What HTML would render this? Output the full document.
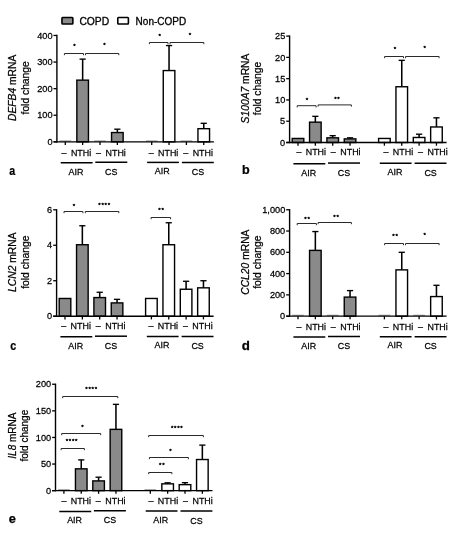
<!DOCTYPE html>
<html><head><meta charset="utf-8"><title>Figure</title>
<style>
html,body{margin:0;padding:0;background:#fff;}
svg{display:block;will-change:transform;font-family:"Liberation Sans", Arial, sans-serif;}
svg text{stroke:#000;stroke-width:0.25px;}
</style></head><body>
<svg width="458" height="535" viewBox="0 0 458 535">
<rect x="0" y="0" width="458" height="535" fill="#fff"/>
<rect x="61.95" y="17.55" width="10.9" height="6.5" rx="0.7" fill="#8a8a8a" stroke="#000" stroke-width="1.6"/>
<text x="79.40" y="24.55" font-size="10.3" style="stroke-width:0.3px">COPD</text>
<rect x="117.8" y="17.55" width="10.6" height="6.5" rx="0.7" fill="#fff" stroke="#000" stroke-width="1.6"/>
<text x="135.60" y="24.50" font-size="10.0" style="stroke-width:0.3px">Non-COPD</text>
<line x1="59.50" y1="140.95" x2="71.10" y2="140.95" stroke="#444" stroke-width="0.6"/>
<line x1="82.65" y1="80.14" x2="82.65" y2="59.12" stroke="#000" stroke-width="1.55"/>
<line x1="79.55" y1="59.12" x2="85.75" y2="59.12" stroke="#000" stroke-width="1.35"/>
<rect x="76.85" y="80.14" width="11.60" height="61.71" fill="#8a8a8a" stroke="#000" stroke-width="1.4"/>
<line x1="94.20" y1="140.95" x2="105.80" y2="140.95" stroke="#444" stroke-width="0.6"/>
<line x1="117.35" y1="132.54" x2="117.35" y2="129.19" stroke="#000" stroke-width="1.55"/>
<line x1="114.25" y1="129.19" x2="120.45" y2="129.19" stroke="#000" stroke-width="1.35"/>
<rect x="111.55" y="132.54" width="11.60" height="9.31" fill="#8a8a8a" stroke="#000" stroke-width="1.4"/>
<line x1="145.90" y1="140.95" x2="157.50" y2="140.95" stroke="#444" stroke-width="0.6"/>
<line x1="169.05" y1="70.56" x2="169.05" y2="45.56" stroke="#000" stroke-width="1.55"/>
<line x1="165.95" y1="45.56" x2="172.15" y2="45.56" stroke="#000" stroke-width="1.35"/>
<rect x="163.25" y="70.56" width="11.60" height="71.29" fill="#fff" stroke="#000" stroke-width="1.4"/>
<line x1="180.60" y1="140.95" x2="192.20" y2="140.95" stroke="#444" stroke-width="0.6"/>
<line x1="203.75" y1="128.68" x2="203.75" y2="123.31" stroke="#000" stroke-width="1.55"/>
<line x1="200.65" y1="123.31" x2="206.85" y2="123.31" stroke="#000" stroke-width="1.35"/>
<rect x="197.95" y="128.68" width="11.60" height="13.17" fill="#fff" stroke="#000" stroke-width="1.4"/>
<line x1="56.90" y1="34.80" x2="56.90" y2="142.50" stroke="#000" stroke-width="1.4"/>
<line x1="53.50" y1="141.85" x2="213.90" y2="141.85" stroke="#000" stroke-width="1.4"/>
<line x1="53.50" y1="141.85" x2="56.90" y2="141.85" stroke="#000" stroke-width="1.3"/>
<text transform="translate(52.55,145.00) scale(0.95,1)" font-size="9.7" text-anchor="end">0</text>
<line x1="53.50" y1="115.25" x2="56.90" y2="115.25" stroke="#000" stroke-width="1.3"/>
<text transform="translate(52.55,118.40) scale(0.95,1)" font-size="9.7" text-anchor="end">100</text>
<line x1="53.50" y1="88.65" x2="56.90" y2="88.65" stroke="#000" stroke-width="1.3"/>
<text transform="translate(52.55,91.80) scale(0.95,1)" font-size="9.7" text-anchor="end">200</text>
<line x1="53.50" y1="62.05" x2="56.90" y2="62.05" stroke="#000" stroke-width="1.3"/>
<text transform="translate(52.55,65.20) scale(0.95,1)" font-size="9.7" text-anchor="end">300</text>
<line x1="53.50" y1="35.45" x2="56.90" y2="35.45" stroke="#000" stroke-width="1.3"/>
<text transform="translate(52.55,38.60) scale(0.95,1)" font-size="9.7" text-anchor="end">400</text>
<line x1="65.30" y1="141.85" x2="65.30" y2="145.05" stroke="#000" stroke-width="1.3"/>
<line x1="82.65" y1="141.85" x2="82.65" y2="145.05" stroke="#000" stroke-width="1.3"/>
<line x1="100.00" y1="141.85" x2="100.00" y2="145.05" stroke="#000" stroke-width="1.3"/>
<line x1="117.35" y1="141.85" x2="117.35" y2="145.05" stroke="#000" stroke-width="1.3"/>
<line x1="151.70" y1="141.85" x2="151.70" y2="145.05" stroke="#000" stroke-width="1.3"/>
<line x1="169.05" y1="141.85" x2="169.05" y2="145.05" stroke="#000" stroke-width="1.3"/>
<line x1="186.40" y1="141.85" x2="186.40" y2="145.05" stroke="#000" stroke-width="1.3"/>
<line x1="203.75" y1="141.85" x2="203.75" y2="145.05" stroke="#000" stroke-width="1.3"/>
<text transform="translate(64.10,156.05) scale(0.92,1)" font-size="9.7" text-anchor="middle">–</text>
<text transform="translate(81.05,156.05) scale(0.92,1)" font-size="9.7" text-anchor="middle">NTHi</text>
<text transform="translate(98.50,156.05) scale(0.92,1)" font-size="9.7" text-anchor="middle">–</text>
<text transform="translate(115.65,156.05) scale(0.92,1)" font-size="9.7" text-anchor="middle">NTHi</text>
<line x1="60.70" y1="162.80" x2="92.60" y2="162.80" stroke="#000" stroke-width="1.5"/>
<line x1="95.30" y1="162.20" x2="127.30" y2="162.20" stroke="#000" stroke-width="1.5"/>
<text transform="translate(76.00,175.00) scale(0.92,1)" font-size="9.7" text-anchor="middle">AIR</text>
<text transform="translate(111.30,175.00) scale(0.92,1)" font-size="9.7" text-anchor="middle">CS</text>
<text transform="translate(151.20,156.05) scale(0.92,1)" font-size="9.7" text-anchor="middle">–</text>
<text transform="translate(168.20,156.05) scale(0.92,1)" font-size="9.7" text-anchor="middle">NTHi</text>
<text transform="translate(185.70,156.05) scale(0.92,1)" font-size="9.7" text-anchor="middle">–</text>
<text transform="translate(202.80,156.05) scale(0.92,1)" font-size="9.7" text-anchor="middle">NTHi</text>
<line x1="147.10" y1="162.40" x2="178.90" y2="162.40" stroke="#000" stroke-width="1.5"/>
<line x1="181.90" y1="162.40" x2="213.80" y2="162.40" stroke="#000" stroke-width="1.5"/>
<text transform="translate(162.20,174.40) scale(0.92,1)" font-size="9.7" text-anchor="middle">AIR</text>
<text transform="translate(197.90,175.40) scale(0.92,1)" font-size="9.7" text-anchor="middle">CS</text>
<path d="M64.40 55.20 V53.50 H83.50 V55.20" fill="none" stroke="#2a2a2a" stroke-width="1.0"/>
<text x="74.91" y="48.20" font-size="6.2" text-anchor="middle" style="letter-spacing:0.73px;stroke-width:0.35px">*</text>
<path d="M85.50 55.20 V53.50 H118.80 V55.20" fill="none" stroke="#2a2a2a" stroke-width="1.0"/>
<text x="104.91" y="47.20" font-size="6.2" text-anchor="middle" style="letter-spacing:0.73px;stroke-width:0.35px">*</text>
<path d="M149.40 44.20 V42.50 H168.00 V44.20" fill="none" stroke="#2a2a2a" stroke-width="1.0"/>
<text x="160.01" y="38.20" font-size="6.2" text-anchor="middle" style="letter-spacing:0.73px;stroke-width:0.35px">*</text>
<path d="M170.00 44.20 V42.50 H203.80 V44.20" fill="none" stroke="#2a2a2a" stroke-width="1.0"/>
<text x="190.41" y="37.30" font-size="6.2" text-anchor="middle" style="letter-spacing:0.73px;stroke-width:0.35px">*</text>
<text transform="translate(16.3,87.85) rotate(-90)" font-size="10.3" text-anchor="middle"><tspan font-style="italic">DEFB4</tspan> mRNA</text>
<text transform="translate(28.6,87.85) rotate(-90)" font-size="10.3" text-anchor="middle">fold change</text>
<text transform="translate(9.29,174.75) scale(0.83,1)" font-size="12.8" font-weight="bold">a</text>
<rect x="292.20" y="138.46" width="11.60" height="4.04" fill="#8a8a8a" stroke="#000" stroke-width="1.4"/>
<line x1="315.35" y1="122.16" x2="315.35" y2="116.33" stroke="#000" stroke-width="1.55"/>
<line x1="312.25" y1="116.33" x2="318.45" y2="116.33" stroke="#000" stroke-width="1.35"/>
<rect x="309.55" y="122.16" width="11.60" height="20.34" fill="#8a8a8a" stroke="#000" stroke-width="1.4"/>
<line x1="332.70" y1="137.82" x2="332.70" y2="135.69" stroke="#000" stroke-width="1.55"/>
<line x1="329.60" y1="135.69" x2="335.80" y2="135.69" stroke="#000" stroke-width="1.35"/>
<rect x="326.90" y="137.82" width="11.60" height="4.68" fill="#8a8a8a" stroke="#000" stroke-width="1.4"/>
<line x1="350.05" y1="138.88" x2="350.05" y2="137.82" stroke="#000" stroke-width="1.55"/>
<line x1="346.95" y1="137.82" x2="353.15" y2="137.82" stroke="#000" stroke-width="1.35"/>
<rect x="344.25" y="138.88" width="11.60" height="3.62" fill="#8a8a8a" stroke="#000" stroke-width="1.4"/>
<rect x="378.60" y="138.46" width="11.60" height="4.04" fill="#fff" stroke="#000" stroke-width="1.4"/>
<line x1="401.75" y1="86.75" x2="401.75" y2="60.36" stroke="#000" stroke-width="1.55"/>
<line x1="398.65" y1="60.36" x2="404.85" y2="60.36" stroke="#000" stroke-width="1.35"/>
<rect x="395.95" y="86.75" width="11.60" height="55.75" fill="#fff" stroke="#000" stroke-width="1.4"/>
<line x1="419.10" y1="137.48" x2="419.10" y2="134.20" stroke="#000" stroke-width="1.55"/>
<line x1="416.00" y1="134.20" x2="422.20" y2="134.20" stroke="#000" stroke-width="1.35"/>
<rect x="413.30" y="137.48" width="11.60" height="5.02" fill="#fff" stroke="#000" stroke-width="1.4"/>
<line x1="436.45" y1="126.97" x2="436.45" y2="117.82" stroke="#000" stroke-width="1.55"/>
<line x1="433.35" y1="117.82" x2="439.55" y2="117.82" stroke="#000" stroke-width="1.35"/>
<rect x="430.65" y="126.97" width="11.60" height="15.53" fill="#fff" stroke="#000" stroke-width="1.4"/>
<line x1="289.60" y1="35.45" x2="289.60" y2="143.15" stroke="#000" stroke-width="1.4"/>
<line x1="286.20" y1="142.50" x2="446.60" y2="142.50" stroke="#000" stroke-width="1.4"/>
<line x1="286.20" y1="142.50" x2="289.60" y2="142.50" stroke="#000" stroke-width="1.3"/>
<text transform="translate(285.25,145.65) scale(0.95,1)" font-size="9.7" text-anchor="end">0</text>
<line x1="286.20" y1="121.22" x2="289.60" y2="121.22" stroke="#000" stroke-width="1.3"/>
<text transform="translate(285.25,124.37) scale(0.95,1)" font-size="9.7" text-anchor="end">5</text>
<line x1="286.20" y1="99.94" x2="289.60" y2="99.94" stroke="#000" stroke-width="1.3"/>
<text transform="translate(285.25,103.09) scale(0.95,1)" font-size="9.7" text-anchor="end">10</text>
<line x1="286.20" y1="78.66" x2="289.60" y2="78.66" stroke="#000" stroke-width="1.3"/>
<text transform="translate(285.25,81.81) scale(0.95,1)" font-size="9.7" text-anchor="end">15</text>
<line x1="286.20" y1="57.38" x2="289.60" y2="57.38" stroke="#000" stroke-width="1.3"/>
<text transform="translate(285.25,60.53) scale(0.95,1)" font-size="9.7" text-anchor="end">20</text>
<line x1="286.20" y1="36.10" x2="289.60" y2="36.10" stroke="#000" stroke-width="1.3"/>
<text transform="translate(285.25,39.25) scale(0.95,1)" font-size="9.7" text-anchor="end">25</text>
<line x1="298.00" y1="142.50" x2="298.00" y2="145.70" stroke="#000" stroke-width="1.3"/>
<line x1="315.35" y1="142.50" x2="315.35" y2="145.70" stroke="#000" stroke-width="1.3"/>
<line x1="332.70" y1="142.50" x2="332.70" y2="145.70" stroke="#000" stroke-width="1.3"/>
<line x1="350.05" y1="142.50" x2="350.05" y2="145.70" stroke="#000" stroke-width="1.3"/>
<line x1="384.40" y1="142.50" x2="384.40" y2="145.70" stroke="#000" stroke-width="1.3"/>
<line x1="401.75" y1="142.50" x2="401.75" y2="145.70" stroke="#000" stroke-width="1.3"/>
<line x1="419.10" y1="142.50" x2="419.10" y2="145.70" stroke="#000" stroke-width="1.3"/>
<line x1="436.45" y1="142.50" x2="436.45" y2="145.70" stroke="#000" stroke-width="1.3"/>
<text transform="translate(298.90,155.20) scale(0.92,1)" font-size="9.7" text-anchor="middle">–</text>
<text transform="translate(315.85,155.20) scale(0.92,1)" font-size="9.7" text-anchor="middle">NTHi</text>
<text transform="translate(333.30,155.20) scale(0.92,1)" font-size="9.7" text-anchor="middle">–</text>
<text transform="translate(350.45,155.20) scale(0.92,1)" font-size="9.7" text-anchor="middle">NTHi</text>
<line x1="293.40" y1="163.65" x2="325.30" y2="163.65" stroke="#000" stroke-width="1.5"/>
<line x1="328.00" y1="163.05" x2="360.00" y2="163.05" stroke="#000" stroke-width="1.5"/>
<text transform="translate(308.70,175.70) scale(0.92,1)" font-size="9.7" text-anchor="middle">AIR</text>
<text transform="translate(344.00,175.70) scale(0.92,1)" font-size="9.7" text-anchor="middle">CS</text>
<text transform="translate(386.00,155.20) scale(0.92,1)" font-size="9.7" text-anchor="middle">–</text>
<text transform="translate(403.00,155.20) scale(0.92,1)" font-size="9.7" text-anchor="middle">NTHi</text>
<text transform="translate(420.50,155.20) scale(0.92,1)" font-size="9.7" text-anchor="middle">–</text>
<text transform="translate(437.60,155.20) scale(0.92,1)" font-size="9.7" text-anchor="middle">NTHi</text>
<line x1="379.80" y1="163.25" x2="411.60" y2="163.25" stroke="#000" stroke-width="1.5"/>
<line x1="414.60" y1="163.25" x2="446.50" y2="163.25" stroke="#000" stroke-width="1.5"/>
<text transform="translate(394.90,175.10) scale(0.92,1)" font-size="9.7" text-anchor="middle">AIR</text>
<text transform="translate(430.60,176.10) scale(0.92,1)" font-size="9.7" text-anchor="middle">CS</text>
<path d="M297.20 107.40 V105.70 H316.10 V107.40" fill="none" stroke="#2a2a2a" stroke-width="1.0"/>
<text x="307.31" y="101.50" font-size="6.2" text-anchor="middle" style="letter-spacing:0.73px;stroke-width:0.35px">*</text>
<path d="M318.10 106.60 V104.90 H351.40 V106.60" fill="none" stroke="#2a2a2a" stroke-width="1.0"/>
<text x="337.31" y="100.80" font-size="6.2" text-anchor="middle" style="letter-spacing:0.73px;stroke-width:0.35px">**</text>
<path d="M384.60 58.20 V56.50 H403.50 V58.20" fill="none" stroke="#2a2a2a" stroke-width="1.0"/>
<text x="395.41" y="51.00" font-size="6.2" text-anchor="middle" style="letter-spacing:0.73px;stroke-width:0.35px">*</text>
<path d="M405.50 58.20 V56.50 H439.10 V58.20" fill="none" stroke="#2a2a2a" stroke-width="1.0"/>
<text x="425.11" y="50.10" font-size="6.2" text-anchor="middle" style="letter-spacing:0.73px;stroke-width:0.35px">*</text>
<text transform="translate(249.2,88.50) rotate(-90)" font-size="10.3" text-anchor="middle"><tspan font-style="italic">S100A7</tspan> mRNA</text>
<text transform="translate(260.9,88.50) rotate(-90)" font-size="10.3" text-anchor="middle">fold change</text>
<text transform="translate(241.92,174.05) scale(0.98,1)" font-size="12.8" font-weight="bold">b</text>
<rect x="59.20" y="298.47" width="11.60" height="17.73" fill="#8a8a8a" stroke="#000" stroke-width="1.4"/>
<line x1="82.35" y1="244.73" x2="82.35" y2="225.76" stroke="#000" stroke-width="1.55"/>
<line x1="79.25" y1="225.76" x2="85.45" y2="225.76" stroke="#000" stroke-width="1.35"/>
<rect x="76.55" y="244.73" width="11.60" height="71.47" fill="#8a8a8a" stroke="#000" stroke-width="1.4"/>
<line x1="99.70" y1="297.58" x2="99.70" y2="292.26" stroke="#000" stroke-width="1.55"/>
<line x1="96.60" y1="292.26" x2="102.80" y2="292.26" stroke="#000" stroke-width="1.35"/>
<rect x="93.90" y="297.58" width="11.60" height="18.62" fill="#8a8a8a" stroke="#000" stroke-width="1.4"/>
<line x1="117.05" y1="302.90" x2="117.05" y2="299.35" stroke="#000" stroke-width="1.55"/>
<line x1="113.95" y1="299.35" x2="120.15" y2="299.35" stroke="#000" stroke-width="1.35"/>
<rect x="111.25" y="302.90" width="11.60" height="13.30" fill="#8a8a8a" stroke="#000" stroke-width="1.4"/>
<rect x="145.60" y="298.47" width="11.60" height="17.73" fill="#fff" stroke="#000" stroke-width="1.4"/>
<line x1="168.75" y1="244.73" x2="168.75" y2="222.75" stroke="#000" stroke-width="1.55"/>
<line x1="165.65" y1="222.75" x2="171.85" y2="222.75" stroke="#000" stroke-width="1.35"/>
<rect x="162.95" y="244.73" width="11.60" height="71.47" fill="#fff" stroke="#000" stroke-width="1.4"/>
<line x1="186.10" y1="289.25" x2="186.10" y2="281.27" stroke="#000" stroke-width="1.55"/>
<line x1="183.00" y1="281.27" x2="189.20" y2="281.27" stroke="#000" stroke-width="1.35"/>
<rect x="180.30" y="289.25" width="11.60" height="26.95" fill="#fff" stroke="#000" stroke-width="1.4"/>
<line x1="203.45" y1="287.83" x2="203.45" y2="280.73" stroke="#000" stroke-width="1.55"/>
<line x1="200.35" y1="280.73" x2="206.55" y2="280.73" stroke="#000" stroke-width="1.35"/>
<rect x="197.65" y="287.83" width="11.60" height="28.37" fill="#fff" stroke="#000" stroke-width="1.4"/>
<line x1="56.60" y1="209.15" x2="56.60" y2="316.85" stroke="#000" stroke-width="1.4"/>
<line x1="53.20" y1="316.20" x2="213.60" y2="316.20" stroke="#000" stroke-width="1.4"/>
<line x1="53.20" y1="316.20" x2="56.60" y2="316.20" stroke="#000" stroke-width="1.3"/>
<text transform="translate(52.25,319.35) scale(0.95,1)" font-size="9.7" text-anchor="end">0</text>
<line x1="53.20" y1="280.73" x2="56.60" y2="280.73" stroke="#000" stroke-width="1.3"/>
<text transform="translate(52.25,283.88) scale(0.95,1)" font-size="9.7" text-anchor="end">2</text>
<line x1="53.20" y1="245.27" x2="56.60" y2="245.27" stroke="#000" stroke-width="1.3"/>
<text transform="translate(52.25,248.42) scale(0.95,1)" font-size="9.7" text-anchor="end">4</text>
<line x1="53.20" y1="209.80" x2="56.60" y2="209.80" stroke="#000" stroke-width="1.3"/>
<text transform="translate(52.25,212.95) scale(0.95,1)" font-size="9.7" text-anchor="end">6</text>
<line x1="65.00" y1="316.20" x2="65.00" y2="319.40" stroke="#000" stroke-width="1.3"/>
<line x1="82.35" y1="316.20" x2="82.35" y2="319.40" stroke="#000" stroke-width="1.3"/>
<line x1="99.70" y1="316.20" x2="99.70" y2="319.40" stroke="#000" stroke-width="1.3"/>
<line x1="117.05" y1="316.20" x2="117.05" y2="319.40" stroke="#000" stroke-width="1.3"/>
<line x1="151.40" y1="316.20" x2="151.40" y2="319.40" stroke="#000" stroke-width="1.3"/>
<line x1="168.75" y1="316.20" x2="168.75" y2="319.40" stroke="#000" stroke-width="1.3"/>
<line x1="186.10" y1="316.20" x2="186.10" y2="319.40" stroke="#000" stroke-width="1.3"/>
<line x1="203.45" y1="316.20" x2="203.45" y2="319.40" stroke="#000" stroke-width="1.3"/>
<text transform="translate(63.80,329.25) scale(0.92,1)" font-size="9.7" text-anchor="middle">–</text>
<text transform="translate(80.75,329.25) scale(0.92,1)" font-size="9.7" text-anchor="middle">NTHi</text>
<text transform="translate(98.20,329.25) scale(0.92,1)" font-size="9.7" text-anchor="middle">–</text>
<text transform="translate(115.35,329.25) scale(0.92,1)" font-size="9.7" text-anchor="middle">NTHi</text>
<line x1="60.40" y1="336.80" x2="92.30" y2="336.80" stroke="#000" stroke-width="1.5"/>
<line x1="95.00" y1="336.20" x2="127.00" y2="336.20" stroke="#000" stroke-width="1.5"/>
<text transform="translate(75.70,349.05) scale(0.92,1)" font-size="9.7" text-anchor="middle">AIR</text>
<text transform="translate(111.00,349.05) scale(0.92,1)" font-size="9.7" text-anchor="middle">CS</text>
<text transform="translate(150.90,329.25) scale(0.92,1)" font-size="9.7" text-anchor="middle">–</text>
<text transform="translate(167.90,329.25) scale(0.92,1)" font-size="9.7" text-anchor="middle">NTHi</text>
<text transform="translate(185.40,329.25) scale(0.92,1)" font-size="9.7" text-anchor="middle">–</text>
<text transform="translate(202.50,329.25) scale(0.92,1)" font-size="9.7" text-anchor="middle">NTHi</text>
<line x1="146.80" y1="336.40" x2="178.60" y2="336.40" stroke="#000" stroke-width="1.5"/>
<line x1="181.60" y1="336.40" x2="213.50" y2="336.40" stroke="#000" stroke-width="1.5"/>
<text transform="translate(161.90,348.45) scale(0.92,1)" font-size="9.7" text-anchor="middle">AIR</text>
<text transform="translate(197.60,349.45) scale(0.92,1)" font-size="9.7" text-anchor="middle">CS</text>
<path d="M64.00 213.20 V211.50 H82.90 V213.20" fill="none" stroke="#2a2a2a" stroke-width="1.0"/>
<text x="74.31" y="208.20" font-size="6.2" text-anchor="middle" style="letter-spacing:0.73px;stroke-width:0.35px">*</text>
<path d="M85.30 213.20 V211.50 H118.80 V213.20" fill="none" stroke="#2a2a2a" stroke-width="1.0"/>
<text x="104.61" y="207.00" font-size="6.2" text-anchor="middle" style="letter-spacing:0.73px;stroke-width:0.35px">****</text>
<path d="M151.10 219.20 V217.50 H170.60 V219.20" fill="none" stroke="#2a2a2a" stroke-width="1.0"/>
<text x="161.41" y="211.50" font-size="6.2" text-anchor="middle" style="letter-spacing:0.73px;stroke-width:0.35px">**</text>
<text transform="translate(16.1,262.20) rotate(-90)" font-size="10.3" text-anchor="middle"><tspan font-style="italic">LCN2</tspan> mRNA</text>
<text transform="translate(28.6,262.20) rotate(-90)" font-size="10.3" text-anchor="middle">fold change</text>
<text transform="translate(10.34,349.75) scale(0.83,1)" font-size="12.8" font-weight="bold">c</text>
<line x1="292.20" y1="315.25" x2="303.80" y2="315.25" stroke="#444" stroke-width="0.6"/>
<line x1="315.35" y1="250.39" x2="315.35" y2="231.56" stroke="#000" stroke-width="1.55"/>
<line x1="312.25" y1="231.56" x2="318.45" y2="231.56" stroke="#000" stroke-width="1.35"/>
<rect x="309.55" y="250.39" width="11.60" height="65.76" fill="#8a8a8a" stroke="#000" stroke-width="1.4"/>
<line x1="326.90" y1="315.25" x2="338.50" y2="315.25" stroke="#444" stroke-width="0.6"/>
<line x1="350.05" y1="297.10" x2="350.05" y2="290.61" stroke="#000" stroke-width="1.55"/>
<line x1="346.95" y1="290.61" x2="353.15" y2="290.61" stroke="#000" stroke-width="1.35"/>
<rect x="344.25" y="297.10" width="11.60" height="19.05" fill="#8a8a8a" stroke="#000" stroke-width="1.4"/>
<line x1="378.60" y1="315.25" x2="390.20" y2="315.25" stroke="#444" stroke-width="0.6"/>
<line x1="401.75" y1="269.87" x2="401.75" y2="252.31" stroke="#000" stroke-width="1.55"/>
<line x1="398.65" y1="252.31" x2="404.85" y2="252.31" stroke="#000" stroke-width="1.35"/>
<rect x="395.95" y="269.87" width="11.60" height="46.28" fill="#fff" stroke="#000" stroke-width="1.4"/>
<line x1="413.30" y1="315.25" x2="424.90" y2="315.25" stroke="#444" stroke-width="0.6"/>
<line x1="436.45" y1="296.57" x2="436.45" y2="285.29" stroke="#000" stroke-width="1.55"/>
<line x1="433.35" y1="285.29" x2="439.55" y2="285.29" stroke="#000" stroke-width="1.35"/>
<rect x="430.65" y="296.57" width="11.60" height="19.58" fill="#fff" stroke="#000" stroke-width="1.4"/>
<line x1="289.60" y1="209.10" x2="289.60" y2="316.80" stroke="#000" stroke-width="1.4"/>
<line x1="286.20" y1="316.15" x2="446.60" y2="316.15" stroke="#000" stroke-width="1.4"/>
<line x1="286.20" y1="316.15" x2="289.60" y2="316.15" stroke="#000" stroke-width="1.3"/>
<text transform="translate(285.25,319.30) scale(0.95,1)" font-size="9.7" text-anchor="end">0</text>
<line x1="286.20" y1="294.87" x2="289.60" y2="294.87" stroke="#000" stroke-width="1.3"/>
<text transform="translate(285.25,298.02) scale(0.95,1)" font-size="9.7" text-anchor="end">200</text>
<line x1="286.20" y1="273.59" x2="289.60" y2="273.59" stroke="#000" stroke-width="1.3"/>
<text transform="translate(285.25,276.74) scale(0.95,1)" font-size="9.7" text-anchor="end">400</text>
<line x1="286.20" y1="252.31" x2="289.60" y2="252.31" stroke="#000" stroke-width="1.3"/>
<text transform="translate(285.25,255.46) scale(0.95,1)" font-size="9.7" text-anchor="end">600</text>
<line x1="286.20" y1="231.03" x2="289.60" y2="231.03" stroke="#000" stroke-width="1.3"/>
<text transform="translate(285.25,234.18) scale(0.95,1)" font-size="9.7" text-anchor="end">800</text>
<line x1="286.20" y1="209.75" x2="289.60" y2="209.75" stroke="#000" stroke-width="1.3"/>
<text transform="translate(285.25,212.90) scale(0.95,1)" font-size="9.7" text-anchor="end">1,000</text>
<line x1="298.00" y1="316.15" x2="298.00" y2="319.35" stroke="#000" stroke-width="1.3"/>
<line x1="315.35" y1="316.15" x2="315.35" y2="319.35" stroke="#000" stroke-width="1.3"/>
<line x1="332.70" y1="316.15" x2="332.70" y2="319.35" stroke="#000" stroke-width="1.3"/>
<line x1="350.05" y1="316.15" x2="350.05" y2="319.35" stroke="#000" stroke-width="1.3"/>
<line x1="384.40" y1="316.15" x2="384.40" y2="319.35" stroke="#000" stroke-width="1.3"/>
<line x1="401.75" y1="316.15" x2="401.75" y2="319.35" stroke="#000" stroke-width="1.3"/>
<line x1="419.10" y1="316.15" x2="419.10" y2="319.35" stroke="#000" stroke-width="1.3"/>
<line x1="436.45" y1="316.15" x2="436.45" y2="319.35" stroke="#000" stroke-width="1.3"/>
<text transform="translate(298.90,329.55) scale(0.92,1)" font-size="9.7" text-anchor="middle">–</text>
<text transform="translate(315.85,329.55) scale(0.92,1)" font-size="9.7" text-anchor="middle">NTHi</text>
<text transform="translate(333.30,329.55) scale(0.92,1)" font-size="9.7" text-anchor="middle">–</text>
<text transform="translate(350.45,329.55) scale(0.92,1)" font-size="9.7" text-anchor="middle">NTHi</text>
<line x1="293.40" y1="337.10" x2="325.30" y2="337.10" stroke="#000" stroke-width="1.5"/>
<line x1="328.00" y1="336.50" x2="360.00" y2="336.50" stroke="#000" stroke-width="1.5"/>
<text transform="translate(308.70,349.00) scale(0.92,1)" font-size="9.7" text-anchor="middle">AIR</text>
<text transform="translate(344.00,349.00) scale(0.92,1)" font-size="9.7" text-anchor="middle">CS</text>
<text transform="translate(386.00,329.55) scale(0.92,1)" font-size="9.7" text-anchor="middle">–</text>
<text transform="translate(403.00,329.55) scale(0.92,1)" font-size="9.7" text-anchor="middle">NTHi</text>
<text transform="translate(420.50,329.55) scale(0.92,1)" font-size="9.7" text-anchor="middle">–</text>
<text transform="translate(437.60,329.55) scale(0.92,1)" font-size="9.7" text-anchor="middle">NTHi</text>
<line x1="379.80" y1="336.70" x2="411.60" y2="336.70" stroke="#000" stroke-width="1.5"/>
<line x1="414.60" y1="336.70" x2="446.50" y2="336.70" stroke="#000" stroke-width="1.5"/>
<text transform="translate(394.90,348.40) scale(0.92,1)" font-size="9.7" text-anchor="middle">AIR</text>
<text transform="translate(430.60,349.40) scale(0.92,1)" font-size="9.7" text-anchor="middle">CS</text>
<path d="M297.20 225.20 V223.50 H316.40 V225.20" fill="none" stroke="#2a2a2a" stroke-width="1.0"/>
<text x="307.51" y="220.50" font-size="6.2" text-anchor="middle" style="letter-spacing:0.73px;stroke-width:0.35px">**</text>
<path d="M318.10 224.20 V222.50 H351.40 V224.20" fill="none" stroke="#2a2a2a" stroke-width="1.0"/>
<text x="336.51" y="219.10" font-size="6.2" text-anchor="middle" style="letter-spacing:0.73px;stroke-width:0.35px">**</text>
<path d="M384.60 245.20 V243.50 H403.50 V245.20" fill="none" stroke="#2a2a2a" stroke-width="1.0"/>
<text x="395.41" y="238.40" font-size="6.2" text-anchor="middle" style="letter-spacing:0.73px;stroke-width:0.35px">**</text>
<path d="M405.50 245.20 V243.50 H439.10 V245.20" fill="none" stroke="#2a2a2a" stroke-width="1.0"/>
<text x="425.11" y="237.40" font-size="6.2" text-anchor="middle" style="letter-spacing:0.73px;stroke-width:0.35px">*</text>
<text transform="translate(248.8,262.15) rotate(-90)" font-size="10.3" text-anchor="middle"><tspan font-style="italic">CCL20</tspan> mRNA</text>
<text transform="translate(260.8,262.15) rotate(-90)" font-size="10.3" text-anchor="middle">fold change</text>
<text transform="translate(241.8,349.55) scale(1.04,1)" font-size="12.8" font-weight="bold">d</text>
<line x1="58.10" y1="489.75" x2="69.70" y2="489.75" stroke="#444" stroke-width="0.6"/>
<line x1="81.25" y1="468.84" x2="81.25" y2="459.90" stroke="#000" stroke-width="1.55"/>
<line x1="78.15" y1="459.90" x2="84.35" y2="459.90" stroke="#000" stroke-width="1.35"/>
<rect x="75.45" y="468.84" width="11.60" height="21.81" fill="#8a8a8a" stroke="#000" stroke-width="1.4"/>
<line x1="98.60" y1="480.91" x2="98.60" y2="477.19" stroke="#000" stroke-width="1.55"/>
<line x1="95.50" y1="477.19" x2="101.70" y2="477.19" stroke="#000" stroke-width="1.35"/>
<rect x="92.80" y="480.91" width="11.60" height="9.74" fill="#8a8a8a" stroke="#000" stroke-width="1.4"/>
<line x1="115.95" y1="429.36" x2="115.95" y2="404.36" stroke="#000" stroke-width="1.55"/>
<line x1="112.85" y1="404.36" x2="119.05" y2="404.36" stroke="#000" stroke-width="1.35"/>
<rect x="110.15" y="429.36" width="11.60" height="61.29" fill="#8a8a8a" stroke="#000" stroke-width="1.4"/>
<line x1="144.50" y1="489.75" x2="156.10" y2="489.75" stroke="#444" stroke-width="0.6"/>
<line x1="167.65" y1="483.84" x2="167.65" y2="482.83" stroke="#000" stroke-width="1.55"/>
<line x1="164.55" y1="482.83" x2="170.75" y2="482.83" stroke="#000" stroke-width="1.35"/>
<rect x="161.85" y="483.84" width="11.60" height="6.81" fill="#fff" stroke="#000" stroke-width="1.4"/>
<line x1="185.00" y1="484.64" x2="185.00" y2="482.67" stroke="#000" stroke-width="1.55"/>
<line x1="181.90" y1="482.67" x2="188.10" y2="482.67" stroke="#000" stroke-width="1.35"/>
<rect x="179.20" y="484.64" width="11.60" height="6.01" fill="#fff" stroke="#000" stroke-width="1.4"/>
<line x1="202.35" y1="459.53" x2="202.35" y2="445.11" stroke="#000" stroke-width="1.55"/>
<line x1="199.25" y1="445.11" x2="205.45" y2="445.11" stroke="#000" stroke-width="1.35"/>
<rect x="196.55" y="459.53" width="11.60" height="31.12" fill="#fff" stroke="#000" stroke-width="1.4"/>
<line x1="55.50" y1="383.60" x2="55.50" y2="491.30" stroke="#000" stroke-width="1.4"/>
<line x1="52.10" y1="490.65" x2="212.50" y2="490.65" stroke="#000" stroke-width="1.4"/>
<line x1="52.10" y1="490.65" x2="55.50" y2="490.65" stroke="#000" stroke-width="1.3"/>
<text transform="translate(51.15,493.80) scale(0.95,1)" font-size="9.7" text-anchor="end">0</text>
<line x1="52.10" y1="464.05" x2="55.50" y2="464.05" stroke="#000" stroke-width="1.3"/>
<text transform="translate(51.15,467.20) scale(0.95,1)" font-size="9.7" text-anchor="end">50</text>
<line x1="52.10" y1="437.45" x2="55.50" y2="437.45" stroke="#000" stroke-width="1.3"/>
<text transform="translate(51.15,440.60) scale(0.95,1)" font-size="9.7" text-anchor="end">100</text>
<line x1="52.10" y1="410.85" x2="55.50" y2="410.85" stroke="#000" stroke-width="1.3"/>
<text transform="translate(51.15,414.00) scale(0.95,1)" font-size="9.7" text-anchor="end">150</text>
<line x1="52.10" y1="384.25" x2="55.50" y2="384.25" stroke="#000" stroke-width="1.3"/>
<text transform="translate(51.15,387.40) scale(0.95,1)" font-size="9.7" text-anchor="end">200</text>
<line x1="63.90" y1="490.65" x2="63.90" y2="493.85" stroke="#000" stroke-width="1.3"/>
<line x1="81.25" y1="490.65" x2="81.25" y2="493.85" stroke="#000" stroke-width="1.3"/>
<line x1="98.60" y1="490.65" x2="98.60" y2="493.85" stroke="#000" stroke-width="1.3"/>
<line x1="115.95" y1="490.65" x2="115.95" y2="493.85" stroke="#000" stroke-width="1.3"/>
<line x1="150.30" y1="490.65" x2="150.30" y2="493.85" stroke="#000" stroke-width="1.3"/>
<line x1="167.65" y1="490.65" x2="167.65" y2="493.85" stroke="#000" stroke-width="1.3"/>
<line x1="185.00" y1="490.65" x2="185.00" y2="493.85" stroke="#000" stroke-width="1.3"/>
<line x1="202.35" y1="490.65" x2="202.35" y2="493.85" stroke="#000" stroke-width="1.3"/>
<text transform="translate(63.90,503.55) scale(0.92,1)" font-size="9.7" text-anchor="middle">–</text>
<text transform="translate(80.85,503.55) scale(0.92,1)" font-size="9.7" text-anchor="middle">NTHi</text>
<text transform="translate(98.30,503.55) scale(0.92,1)" font-size="9.7" text-anchor="middle">–</text>
<text transform="translate(115.45,503.55) scale(0.92,1)" font-size="9.7" text-anchor="middle">NTHi</text>
<line x1="59.30" y1="511.45" x2="91.20" y2="511.45" stroke="#000" stroke-width="1.5"/>
<line x1="93.90" y1="510.85" x2="125.90" y2="510.85" stroke="#000" stroke-width="1.5"/>
<text transform="translate(74.60,523.40) scale(0.92,1)" font-size="9.7" text-anchor="middle">AIR</text>
<text transform="translate(109.90,523.40) scale(0.92,1)" font-size="9.7" text-anchor="middle">CS</text>
<text transform="translate(151.00,503.55) scale(0.92,1)" font-size="9.7" text-anchor="middle">–</text>
<text transform="translate(168.00,503.55) scale(0.92,1)" font-size="9.7" text-anchor="middle">NTHi</text>
<text transform="translate(185.50,503.55) scale(0.92,1)" font-size="9.7" text-anchor="middle">–</text>
<text transform="translate(202.60,503.55) scale(0.92,1)" font-size="9.7" text-anchor="middle">NTHi</text>
<line x1="145.70" y1="511.05" x2="177.50" y2="511.05" stroke="#000" stroke-width="1.5"/>
<line x1="180.50" y1="511.05" x2="212.40" y2="511.05" stroke="#000" stroke-width="1.5"/>
<text transform="translate(160.80,522.80) scale(0.92,1)" font-size="9.7" text-anchor="middle">AIR</text>
<text transform="translate(196.50,523.80) scale(0.92,1)" font-size="9.7" text-anchor="middle">CS</text>
<path d="M62.70 398.20 V396.50 H117.80 V398.20" fill="none" stroke="#2a2a2a" stroke-width="1.0"/>
<text x="91.61" y="390.90" font-size="6.2" text-anchor="middle" style="letter-spacing:0.73px;stroke-width:0.35px">****</text>
<path d="M61.70 435.20 V433.50 H100.70 V435.20" fill="none" stroke="#2a2a2a" stroke-width="1.0"/>
<text x="82.71" y="428.60" font-size="6.2" text-anchor="middle" style="letter-spacing:0.73px;stroke-width:0.35px">*</text>
<path d="M61.10 450.20 V448.50 H84.40 V450.20" fill="none" stroke="#2a2a2a" stroke-width="1.0"/>
<text x="71.91" y="442.80" font-size="6.2" text-anchor="middle" style="letter-spacing:0.73px;stroke-width:0.35px">****</text>
<path d="M148.70 437.20 V435.50 H203.40 V437.20" fill="none" stroke="#2a2a2a" stroke-width="1.0"/>
<text x="177.21" y="429.70" font-size="6.2" text-anchor="middle" style="letter-spacing:0.73px;stroke-width:0.35px">****</text>
<path d="M149.40 459.20 V457.50 H188.40 V459.20" fill="none" stroke="#2a2a2a" stroke-width="1.0"/>
<text x="170.71" y="453.40" font-size="6.2" text-anchor="middle" style="letter-spacing:0.73px;stroke-width:0.35px">*</text>
<path d="M148.70 474.20 V472.50 H171.90 V474.20" fill="none" stroke="#2a2a2a" stroke-width="1.0"/>
<text x="162.21" y="466.60" font-size="6.2" text-anchor="middle" style="letter-spacing:0.73px;stroke-width:0.35px">**</text>
<text transform="translate(16.1,435.65) rotate(-90)" font-size="10.0" text-anchor="middle"><tspan font-style="italic">IL8</tspan> mRNA</text>
<text transform="translate(28.1,435.65) rotate(-90)" font-size="10.0" text-anchor="middle">fold change</text>
<text transform="translate(8.75,523.25) scale(1.0,1)" font-size="12.8" font-weight="bold">e</text>
</svg>
</body></html>
